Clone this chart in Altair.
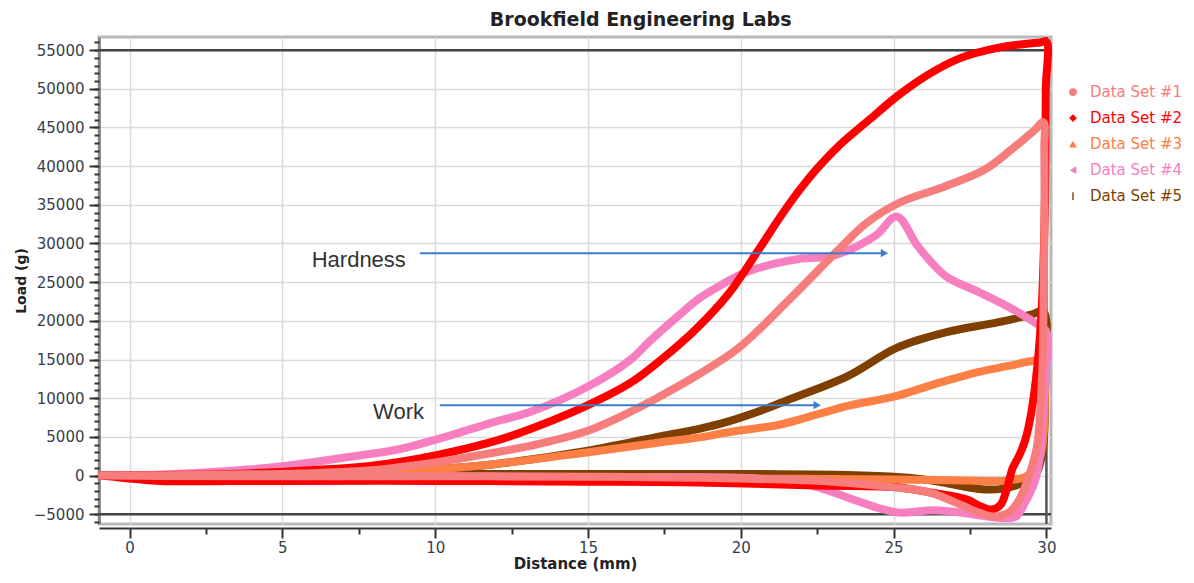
import altair as alt
import pandas as pd

# ---------------- data ----------------
SERIES = ["Data Set #1", "Data Set #2", "Data Set #3", "Data Set #4", "Data Set #5"]
COLORS = ["#F77D7D", "#FF0000", "#FC8045", "#F77FC0", "#7F3F00"]
SHAPES = ["circle", "diamond", "triangle-up", "triangle-left",
          "M-0.18,-1L0.18,-1L0.18,1L-0.18,1Z"]

# Data Set #1 (load, then return)
X1 = [-0.9, 0, 2, 4, 6, 8, 10, 12, 13.5, 15, 16, 17.2, 18.5, 19.9, 21.6, 23.2, 24.1, 25.2, 26.7, 28, 28.9, 29.6, 29.9,
      29.93, 29.93, 29.9, 29.85, 29.7, 29.5, 29.3, 29.1, 28.8, 28.3, 27.8, 27.2, 26.2, 25.2, 23, 20, 18.6, 15, 10, 5, 1, -0.9]
Y1 = [0, 0, 50, 150, 300, 700, 1700, 3000, 4200, 5800, 7500, 9900, 12800, 16400, 22800, 29200, 32600, 35300, 37400, 39600, 42300, 44600, 45700,
      42000, 30000, 20000, 12000, 4000, 800, -1500, -3200, -4700, -5300, -4800, -3800, -2200, -1600, -800, -400, -300, -150, -100, -100, -50, 0]

# Data Set #2
X2 = [-0.9, 0, 2, 4, 6, 8, 10, 12, 13.5, 15, 16.4, 17.4, 18.5, 19.6, 20.6, 21.3, 21.9, 22.5, 23.2, 24.2, 25.2, 26.2, 27.2, 28.4, 29.3, 29.8, 30,
      29.98, 29.95, 29.85, 29.7, 29.5, 29.3, 29.1, 28.9, 28.7, 28.5, 28.2, 27.8, 27.4, 26.2, 25, 22.5, 18.6, 15, 10, 5, 1, 0.3, -0.9]
Y2 = [0, 0, 100, 300, 700, 1300, 2600, 4500, 6600, 9100, 12000, 15000, 18800, 23500, 29300, 33500, 36800, 39700, 42600, 46000, 49300, 52000, 54000, 55300, 55800, 56000, 56100,
      50000, 35000, 22000, 14000, 8000, 4500, 2500, 1000, -1800, -3800, -4400, -3900, -3100, -2200, -1500, -1300, -900, -800, -700, -700, -700, -500, 0]

# Data Set #3
X3 = [-0.9, 0, 2, 4, 6, 8, 10, 12, 15, 17.4, 18.6, 19.6, 21.3, 22.5, 23.5, 25.1, 26.5, 27.8, 28.8, 29.4, 29.9,
      29.95, 29.9, 29.8, 29.6, 29.3, 29.0, 28.6, 28.0, 27, 25, 20, 15, 10, 5, 0, -0.9]
Y3 = [0, 0, 50, 100, 200, 400, 800, 1500, 3000, 4300, 4900, 5600, 6600, 7900, 9000, 10300, 12000, 13400, 14200, 14700, 14800,
      10000, 5000, 2500, 800, -200, -500, -700, -700, -600, -500, -400, -300, -300, -200, -100, 0]

# Data Set #4
X4 = [-0.9, 0, 2, 4, 5, 7, 8.8, 10.5, 12, 13.1, 15, 16.4, 17, 18, 18.6, 19.3, 20, 21, 21.9, 23, 24.4, 25.1, 25.8, 26.7, 27.8, 28.9, 29.8, 30,
      29.95, 29.85, 29.75, 29.6, 29.3, 29.0, 28.5, 27.4, 26.3, 25.2, 24.5, 23.6, 22.5, 21.5, 20, 15, 10, 5, 0, -0.9]
Y4 = [0, 0, 300, 800, 1200, 2300, 3400, 5200, 7000, 8200, 11500, 15000, 17300, 20800, 22800, 24500, 26000, 27300, 28000, 28400, 31000, 33500, 29600, 25800, 23700, 21500, 19300, 18600,
      12000, 6000, 1500, -1000, -3500, -5300, -5500, -4900, -4500, -4800, -4200, -3000, -1500, -700, -300, -200, -100, -100, 0, 0]

# Data Set #5
X5 = [-0.9, 0, 2, 4, 6, 8, 10, 12, 15, 17.4, 18.6, 19.6, 20.8, 21.5, 23.5, 25.1, 26.7, 28.4, 29.5, 29.9,
      29.95, 29.9, 29.7, 29.4, 29.0, 28.6, 28.0, 27.4, 26.5, 25.5, 24, 20, 15, 10, 5, 0, -0.9]
Y5 = [0, 0, 50, 100, 200, 400, 800, 1500, 3200, 5100, 6000, 7000, 8600, 9700, 12850, 16500, 18500, 19800, 20800, 21200,
      12000, 4000, 500, -600, -1300, -1700, -1800, -1500, -800, -300, 0, 200, 200, 200, 100, 0, 0]

X_TICKS = [0, 5, 10, 15, 20, 25, 30]
X_MINOR = [2.5, 7.5, 12.5, 17.5, 22.5, 27.5]
Y_TICKS = list(range(-5000, 55001, 5000))
Y_MINOR = list(range(-6000, 56001, 1000))
REF_Y = [55000, -5000]
REF_X = [30]

ANNOT_TEXT = ["Hardness", "Work"]
ANNOT_X = [7.5, 8.8]
ANNOT_Y = [27900, 8200]
ARROW_X = [9.5, 10.15]
ARROW_X2 = [24.7, 22.5]
ARROW_Y = [28750, 9100]

# ---------------- chart ----------------
FONT = "DejaVu Sans"
LABEL_COLOR = "#363e4e"

X_SCALE = alt.Scale(domain=[-1, 30.15], nice=False, zero=False)
Y_SCALE = alt.Scale(domain=[-6270, 56700], nice=False, zero=False)

X_AXIS = alt.Axis(values=X_TICKS, title="Distance (mm)", labelFont=FONT, labelFontSize=15,
                  labelColor=LABEL_COLOR, titleFont=FONT, titleFontSize=15, titleFontWeight="bold",
                  titleColor="#222222", tickSize=10, tickWidth=2, tickColor="#333333",
                  domainColor="#333333", domainWidth=2, offset=4, labelPadding=2, titlePadding=1,
                  gridColor="#dadada", gridWidth=1.5, labelFlush=False, orient="bottom")
Y_AXIS = alt.Axis(values=Y_TICKS, format="d", title="Load (g)", labelFont=FONT, labelFontSize=15,
                  labelColor=LABEL_COLOR, titleFont=FONT, titleFontSize=14, titleFontWeight="bold",
                  titleColor="#222222", tickSize=10, tickWidth=2, tickColor="#333333",
                  domainColor="#8a8a8a", domainWidth=3, labelPadding=5, titlePadding=5,
                  gridColor="#dadada", gridWidth=1.5, labelFlush=False, orient="left")
X_MINOR_AXIS = alt.Axis(values=X_MINOR, labels=False, grid=False, domain=False, title=None,
                        tickSize=6, tickWidth=2, tickColor="#333333", offset=4, orient="bottom")
Y_MINOR_AXIS = alt.Axis(values=Y_MINOR, labels=False, grid=False, domain=False, title=None,
                        tickSize=5, tickWidth=2, tickColor="#333333", orient="left")


def xe(field="x"):
    return alt.X(f"{field}:Q", scale=X_SCALE, axis=X_AXIS)


def ye(field="y"):
    return alt.Y(f"{field}:Q", scale=Y_SCALE, axis=Y_AXIS)


series_data = [(X1, Y1), (X2, Y2), (X3, Y3), (X4, Y4), (X5, Y5)]
draw_order = [4, 2, 3, 1, 0]

layers = []
layers.append(
    alt.Chart(pd.DataFrame({"y": REF_Y})).mark_rule(color="#444444", strokeWidth=2.5).encode(y=ye())
)
layers.append(
    alt.Chart(pd.DataFrame({"x": REF_X})).mark_rule(color="#555555", strokeWidth=2.5).encode(x=xe())
)
for k in draw_order:
    xs, ys = series_data[k]
    df = pd.DataFrame({"x": xs, "y": ys, "i": list(range(len(xs)))})
    layers.append(
        alt.Chart(df).mark_line(color=COLORS[k], strokeWidth=8, strokeJoin="round", strokeCap="round",
                                interpolate="catmull-rom")
        .encode(x=xe(), y=ye(), order=alt.Order("i:Q"))
    )

arrow_df = pd.DataFrame({"x": ARROW_X, "x2": ARROW_X2, "y": ARROW_Y})
layers.append(
    alt.Chart(arrow_df).mark_rule(color="#3d7cc9", strokeWidth=2)
    .encode(x=xe(), x2=alt.X2("x2:Q"), y=ye())
)
layers.append(
    alt.Chart(arrow_df).mark_point(shape="triangle-right", filled=True, color="#3d7cc9", size=70, opacity=1)
    .encode(x=xe("x2"), y=ye())
)
annot_df = pd.DataFrame({"t": ANNOT_TEXT, "x": ANNOT_X, "y": ANNOT_Y})
layers.append(
    alt.Chart(annot_df).mark_text(font="Liberation Sans", fontSize=22, color="#333333")
    .encode(x=xe(), y=ye(), text="t:N")
)

inner = alt.layer(*layers)
minor = alt.Chart(pd.DataFrame({"x": [0], "y": [0]})).mark_point(opacity=0).encode(
    x=alt.X("x:Q", scale=X_SCALE, axis=X_MINOR_AXIS),
    y=alt.Y("y:Q", scale=Y_SCALE, axis=Y_MINOR_AXIS),
)
main = (
    alt.layer(inner, minor)
    .resolve_axis(x="independent", y="independent")
    .properties(width=952, height=487,
                view=alt.ViewBackground(stroke="#b8b8b8", strokeWidth=3))
)

legend_df = pd.DataFrame({"s": SERIES, "row": list(range(len(SERIES)))})
LEG_Y = alt.Y("row:Q", scale=alt.Scale(domain=[-2.12, 16.61], reverse=True, nice=False, zero=False), axis=None)
leg_pts = alt.Chart(legend_df).mark_point(filled=True, size=60, opacity=1).encode(
    x=alt.value(14),
    y=LEG_Y,
    shape=alt.Shape("s:N", scale=alt.Scale(domain=SERIES, range=SHAPES), legend=None),
    color=alt.Color("s:N", scale=alt.Scale(domain=SERIES, range=COLORS), legend=None),
)
leg_txt = alt.Chart(legend_df).mark_text(align="left", baseline="middle", font=FONT, fontSize=15).encode(
    x=alt.value(31),
    y=LEG_Y,
    text="s:N",
    color=alt.Color("s:N", scale=alt.Scale(domain=SERIES, range=COLORS), legend=None),
)
legend = alt.layer(leg_pts, leg_txt).properties(width=100, height=487)

chart = (
    alt.hconcat(main, legend, spacing=0)
    .properties(
        title=alt.TitleParams("Brookfield Engineering Labs", font=FONT, fontSize=19,
                              fontWeight="bold", color="#222222", anchor="middle", offset=4, dx=43),
        padding={"left": 4, "top": 3, "right": 0, "bottom": 0},
    )
    .configure_view(stroke="transparent")
)

chart.save("out.html", embed_options={"renderer": "svg", "actions": False})
